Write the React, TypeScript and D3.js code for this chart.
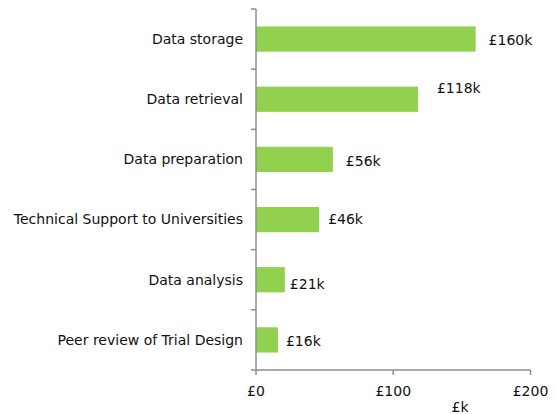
import React, { useEffect, useRef } from "react";
import * as d3 from "d3";

// chart values
const categories = [
  "Data storage",
  "Data retrieval",
  "Data preparation",
  "Technical Support to Universities",
  "Data analysis",
  "Peer review of Trial Design",
];
const costs = [160, 118, 56, 46, 21, 16];
const xTicks = [0, 100, 200];
const xTitle = "£k";

const App = () => {
  const svgRef = useRef<SVGSVGElement>(null);

  useEffect(() => {
    const width = 556;
    const height = 414;
    const font = "'DejaVu Sans', Verdana, sans-serif";

    const svg = d3.select(svgRef.current);
    svg.selectAll("*").remove();
    svg.attr("width", width).attr("height", height);

    const x = d3.scaleLinear().domain([0, 200]).range([256, 530.5]);
    const y = d3
      .scaleBand()
      .domain(categories)
      .range([9, 370])
      .paddingInner(0.58)
      .paddingOuter(0.29);

    const axisColor = "#8c8c8c";
    const step = y.step();

    // bars
    svg
      .selectAll("rect.bar")
      .data(categories)
      .enter()
      .append("rect")
      .attr("class", "bar")
      .attr("x", x(0))
      .attr("y", (d) => y(d)!)
      .attr("width", (d, i) => x(costs[i]) - x(0))
      .attr("height", y.bandwidth())
      .attr("fill", "#92d050");

    // value labels (Excel placed them a bit unevenly)
    const nudge: Record<string, [number, number]> = {
      "Data storage": [13, 1],
      "Data retrieval": [19, -11],
      "Data preparation": [13, 2],
      "Technical Support to Universities": [9, 0],
      "Data analysis": [5, 4],
      "Peer review of Trial Design": [8, 1],
    };
    svg
      .selectAll("text.value")
      .data(categories)
      .enter()
      .append("text")
      .attr("class", "value")
      .attr("x", (d, i) => x(costs[i]) + nudge[d][0])
      .attr("y", (d) => y(d)! + y.bandwidth() / 2 + nudge[d][1])
      .attr("dy", "0.35em")
      .style("font-family", font)
      .style("font-size", "14px")
      .style("fill", "#111")
      .text((d, i) => `£${costs[i]}k`);

    // category labels
    svg
      .selectAll("text.cat")
      .data(categories)
      .enter()
      .append("text")
      .attr("class", "cat")
      .attr("x", 243)
      .attr("y", (d) => y(d)! + y.bandwidth() / 2)
      .attr("dy", "0.35em")
      .attr("text-anchor", "end")
      .style("font-family", font)
      .style("font-size", "14px")
      .style("fill", "#111")
      .text((d) => d);

    // y axis line + ticks at band edges
    svg
      .append("line")
      .attr("x1", x(0))
      .attr("x2", x(0))
      .attr("y1", 9)
      .attr("y2", 370)
      .attr("stroke", axisColor)
      .attr("stroke-width", 1.5);
    svg
      .selectAll("line.ytick")
      .data(d3.range(categories.length + 1))
      .enter()
      .append("line")
      .attr("class", "ytick")
      .attr("x1", x(0) - 5)
      .attr("x2", x(0))
      .attr("y1", (i) => 9 + i * step)
      .attr("y2", (i) => 9 + i * step)
      .attr("stroke", axisColor)
      .attr("stroke-width", 1.5);

    // x axis
    svg
      .append("line")
      .attr("x1", x(0))
      .attr("x2", x(200))
      .attr("y1", 370)
      .attr("y2", 370)
      .attr("stroke", axisColor)
      .attr("stroke-width", 1.5);
    svg
      .selectAll("line.xtick")
      .data(xTicks)
      .enter()
      .append("line")
      .attr("class", "xtick")
      .attr("x1", (d) => x(d))
      .attr("x2", (d) => x(d))
      .attr("y1", 370)
      .attr("y2", 375)
      .attr("stroke", axisColor)
      .attr("stroke-width", 1.5);
    svg
      .selectAll("text.xlabel")
      .data(xTicks)
      .enter()
      .append("text")
      .attr("class", "xlabel")
      .attr("x", (d) => x(d))
      .attr("y", 391)
      .attr("dy", "0.35em")
      .attr("text-anchor", "middle")
      .style("font-family", font)
      .style("font-size", "14px")
      .style("fill", "#111")
      .text((d) => `£${d}`);

    svg
      .append("text")
      .attr("x", 460)
      .attr("y", 407)
      .attr("dy", "0.35em")
      .attr("text-anchor", "middle")
      .style("font-family", font)
      .style("font-size", "14px")
      .style("fill", "#111")
      .text(xTitle);
  }, []);

  return (
    <svg
      ref={svgRef}
      style={{ position: "absolute", left: 0, top: 0, background: "#fff" }}
    ></svg>
  );
};

export default App;
